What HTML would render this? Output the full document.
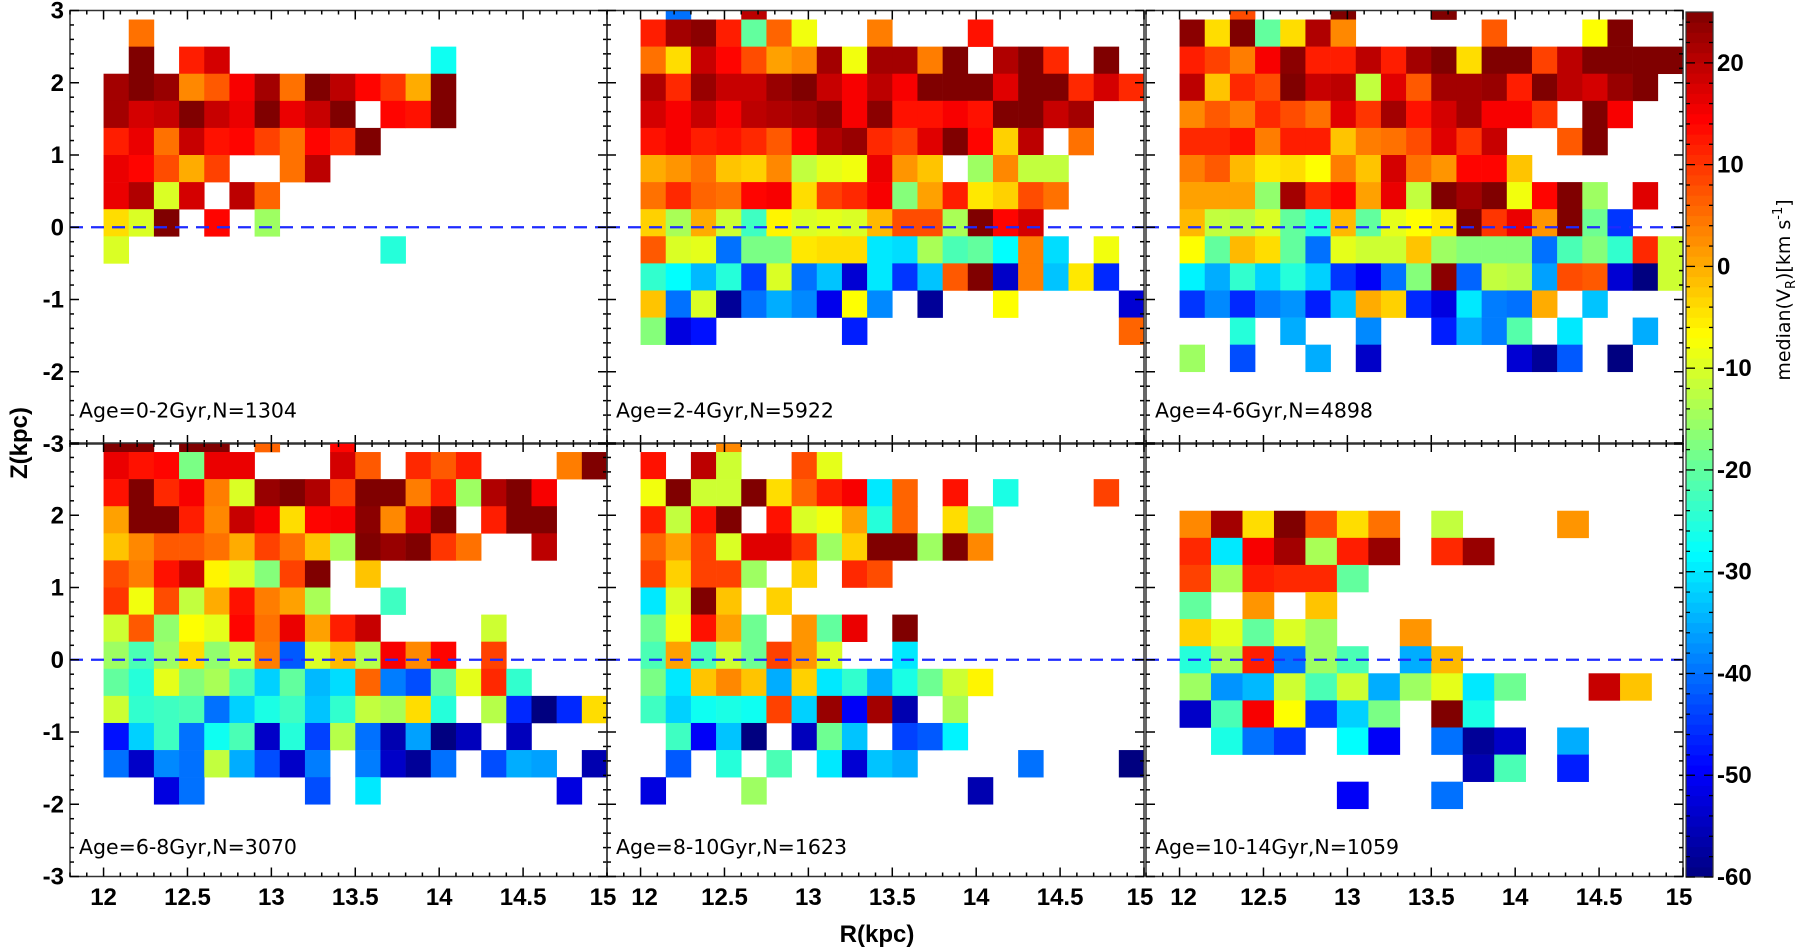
<!DOCTYPE html>
<html><head><meta charset="utf-8"><style>
html,body{margin:0;padding:0;background:#fff;}
svg{display:block;}
text{font-family:"Liberation Sans Narrow","Liberation Sans",sans-serif;font-weight:bold;fill:#000;}
.pl{font-family:"DejaVu Sans","Liberation Sans",sans-serif;font-weight:normal;}
</style></head><body>
<svg id="chart" width="1800" height="948" viewBox="0 0 1800 948" xmlns="http://www.w3.org/2000/svg"></svg>
<script>
const N=null;
const zTicks=[-3,-2,-1,0,1,2,3];
const rTicks=[12,12.5,13,13.5,14,14.5,15];
const cbTicks=[20,10,0,-10,-20,-30,-40,-50,-60];
const panelLabels=["Age=0-2Gyr,N=1304","Age=2-4Gyr,N=5922","Age=4-6Gyr,N=4898","Age=6-8Gyr,N=3070","Age=8-10Gyr,N=1623","Age=10-14Gyr,N=1059"];
const binR=[0.15,0.15,0.15,0.15,0.15,0.1875];
const binTopZ=[3.25,3.25,3.25,3.25,3.25,2.0625];
const p1=[
[N,N,N,N,N,N,N,N,N,N,N,N,N,N,N,N,N,N,N,N],
[N,5,N,N,N,N,N,N,N,N,N,N,N,N,N,N,N,N,N,N],
[N,25,N,12,18,N,N,N,N,N,N,N,N,-27,N,N,N,N,N,N],
[22,25,23,3,7,15,22,5,25,20,14,10,0,25,N,N,N,N,N,N],
[22,18,19,25,19,16,25,16,19,25,N,14,13,25,N,N,N,N,N,N],
[12,16,5,19,13,14,9,5,14,11,25,N,N,N,N,N,N,N,N,N],
[16,14,8,0,9,N,N,5,20,N,N,N,N,N,N,N,N,N,N,N],
[16,21,-10,18,N,20,6,N,N,N,N,N,N,N,N,N,N,N,N,N],
[-4,-10,25,N,14,N,-15,N,N,N,N,N,N,N,N,N,N,N,N,N],
[-10,N,N,N,N,N,N,N,N,N,N,-25,N,N,N,N,N,N,N,N]];
const p2=[
[N,-40,N,N,20,N,N,N,N,N,N,N,N,N,N,N,N,N,N,N],
[12,22,24,12,-20,6,-8,N,N,4,N,N,N,13,N,N,N,N,N,N],
[5,-4,19,14,8,1,3,22,-8,22,22,4,25,N,21,25,11,N,25,N],
[21,11,23,19,19,23,25,19,15,20,15,25,25,25,17,25,25,11,18,11],
[18,15,19,15,20,21,22,24,15,24,13,13,15,13,25,25,19,22,N,N],
[13,15,12,13,11,7,14,21,23,11,9,17,25,14,-3,20,N,5,N,N],
[0,2,5,-2,-3,3,-12,-9,-8,16,2,-2,N,-15,3,-12,-12,N,N,N],
[5,11,6,5,14,15,-4,9,11,15,-17,1,12,-5,-3,8,5,N,N,N],
[-3,-14,0,-11,-23,-6,-10,-9,-10,-1,8,8,-14,25,14,18,N,N,N,N],
[7,-10,-9,-40,-18,-18,-5,-4,-4,-30,-31,-14,-22,-20,-28,4,-31,N,-8,N],
[-24,-28,-34,-25,-44,-10,-40,-33,-53,-30,-45,-33,7,25,-54,4,-33,-5,-46,N],
[-2,-40,-10,-58,-40,-35,-38,-51,-7,-38,N,-58,N,N,-7,N,N,N,N,-53],
[-17,-52,-48,N,N,N,N,N,-47,N,N,N,N,N,N,N,N,N,N,6]];
const p3=[
[N,N,8,N,N,N,25,N,N,N,25,N,N,N,N,N,N,N,N,N],
[24,-4,25,-20,-4,21,3,N,N,N,N,N,7,N,N,N,-7,25,N,N],
[12,9,4,15,24,12,12,20,12,22,25,-4,25,25,9,20,25,25,25,25],
[20,-2,11,8,25,19,20,-12,17,7,22,22,23,12,25,20,18,23,25,N],
[3,7,4,11,8,5,17,10,22,13,18,22,15,15,10,N,25,15,N,N],
[11,11,13,4,12,12,-2,4,5,8,17,10,19,N,N,7,25,N,N,N],
[4,7,-1,-5,-4,-7,4,-2,18,5,2,14,14,-2,N,N,N,N,N,N],
[1,1,1,-16,22,11,14,1,16,-12,25,22,25,-8,14,25,-15,N,17,N],
[-1,-12,-13,-10,-20,-25,-1,-20,-9,-7,-5,25,10,16,2,25,-19,-45,N,N],
[-7,-20,-1,-4,-20,-40,-9,-11,-11,-2,-15,-17,-17,-17,-40,-22,-17,-24,11,-11],
[-29,-35,-24,-32,-25,-32,-45,-50,-40,-17,24,-41,-12,-13,-36,8,7,-53,-60,-11],
[-45,-38,-46,-39,-37,-47,-33,0,-3,-46,-52,-30,-39,-40,0,N,-33,N,N,N],
[N,N,-25,N,-35,N,N,-38,N,N,-47,-35,-39,-21,N,-30,N,N,-35,N],
[-15,N,-43,N,N,-35,N,-54,N,N,N,N,N,-53,-58,-42,N,-60,N,N]];
const p4=[
[25,25,N,25,25,N,6,N,N,14,N,N,N,N,N,N,N,N,N,N],
[16,13,14,-18,16,16,N,N,N,18,7,N,11,7,12,N,N,N,4,25],
[13,25,11,15,4,-10,23,25,21,9,25,25,4,12,-15,21,25,15,N,N],
[1,25,25,12,3,19,15,-4,14,15,24,3,17,25,N,12,25,25,N,N],
[-2,3,7,7,5,0,9,5,-2,-14,25,23,25,10,5,N,N,20,N,N],
[8,4,13,19,-6,-10,-17,9,25,N,-2,N,N,N,N,N,N,N,N,N],
[10,-8,8,-12,0,13,4,1,-14,N,N,-23,N,N,N,N,N,N,N,N],
[-11,7,-16,-7,-9,14,5,16,1,12,19,N,N,N,N,-11,N,N,N,N],
[-15,-22,-15,-4,-16,-11,4,-42,-10,-1,-13,15,3,14,N,9,N,N,N,N],
[-20,-25,-9,-17,-14,-22,-32,-20,-34,-31,6,-39,-43,-20,-9,11,-24,N,N,N],
[-11,-24,-23,-22,-40,-32,-26,-23,-33,-24,-12,-14,-4,-25,N,-13,-46,-60,-46,-4],
[-48,-32,-23,-40,-27,-22,-54,-25,-44,-13,-40,-56,-36,-60,-55,N,-55,N,N,N],
[-40,-54,-38,-40,-12,-35,-43,-54,-39,N,-39,-54,-58,-40,N,-43,-35,-36,N,-56],
[N,N,-52,-40,N,N,N,N,-43,N,-30,N,N,N,N,N,N,N,-52,N]];
const p5=[
[N,N,N,3,N,N,N,N,N,N,N,N,N,N,N,N,N,N,N,N],
[13,N,20,-11,N,N,8,-9,N,N,N,N,N,N,N,N,N,N,N,N],
[-8,25,-11,-11,25,-4,6,12,15,-30,6,N,13,N,-26,N,N,N,9,N],
[12,-12,13,25,N,13,-10,-8,1,-25,6,N,-4,-16,N,N,N,N,N,N],
[6,1,9,-10,17,17,10,-15,-3,25,25,-15,25,3,N,N,N,N,N,N],
[9,-3,9,9,-15,N,-3,N,11,8,N,N,N,N,N,N,N,N,N,N],
[-30,-10,25,-2,N,-3,N,N,N,N,N,N,N,N,N,N,N,N,N,N],
[-19,-8,13,1,-19,N,2,-20,16,N,25,N,N,N,N,N,N,N,N,N],
[-22,1,-22,-11,-19,9,2,-10,N,N,-30,N,N,N,N,N,N,N,N,N],
[-18,-30,-2,3,-2,-35,-3,-30,-24,-35,-26,-19,-11,-6,N,N,N,N,N,N],
[-23,-32,-27,-26,-27,9,-32,23,-50,22,-56,N,-14,N,N,N,N,N,N,N],
[N,-23,-50,-33,-60,N,-55,-19,-33,N,-44,-42,-29,N,N,N,N,N,N,N],
[N,-42,N,-25,N,-22,N,-30,-53,-33,-35,N,N,N,N,-40,N,N,N,-60],
[-52,N,N,N,-15,N,N,N,N,N,N,N,N,-56,N,N,N,N,N,N]];
const p6=[
[3,22,-4,25,8,-4,5,N,-12,N,N,N,2,N,N,N],
[11,-30,15,22,-14,12,23,N,11,23,N,N,N,N,N,N],
[9,-14,12,11,11,-20,N,N,N,N,N,N,N,N,N,N],
[-20,N,2,N,-2,N,N,N,N,N,N,N,N,N,N,N],
[-3,-9,-20,-10,-15,N,N,2,N,N,N,N,N,N,N,N],
[-25,-14,12,-40,-15,-22,N,-35,-1,N,N,N,N,N,N,N],
[-15,-37,-34,-11,-22,-11,-35,-15,-9,-30,-19,N,N,19,-2,N],
[-54,-22,15,-7,-45,-32,-18,N,25,-26,N,N,N,N,N,N],
[N,-26,-40,-45,N,-28,-50,N,-40,-58,-54,N,-35,N,N,N],
[N,N,N,N,N,N,N,N,N,-56,-22,N,-47,N,N,N],
[N,N,N,N,N,-50,N,N,-40,N,N,N,N,N,N,N]];
const panelData=[p1,p2,p3,p4,p5,p6];

const NS="http://www.w3.org/2000/svg";
const svg=document.getElementById('chart');
function mk(tag,attrs,parent){const e=document.createElementNS(NS,tag);for(const k in attrs)e.setAttribute(k,attrs[k]);(parent||svg).appendChild(e);return e;}
function jet(v){let t=(v+60)/85;t=Math.max(0,Math.min(1,t));const c=x=>Math.round(255*Math.max(0,Math.min(1,x)));
return `rgb(${c(1.5-Math.abs(4*t-3))},${c(1.5-Math.abs(4*t-2))},${c(1.5-Math.abs(4*t-1))})`;}
const panelX=[70,607,1146], panelW=537;
const rowY=[10.5,443], panelH=433.5;
const R0=11.8,R1=15,Z0=-3,Z1=3;
const names=["age-0-2","age-2-4","age-4-6","age-6-8","age-8-10","age-10-14"];
const defs=mk('defs',{});
for(let p=0;p<6;p++){
  const px=panelX[p%3], py=rowY[Math.floor(p/3)];
  const xs=r=>px+(r-R0)/(R1-R0)*panelW;
  const ys=z=>py+(Z1-z)/(Z1-Z0)*panelH;
  const cp=mk('clipPath',{id:'cp'+p},defs);
  mk('rect',{x:px,y:py,width:panelW,height:panelH},cp);
  const g=mk('g',{'clip-path':'url(#cp'+p+')'});
  
  
  const data=panelData[p], dr=binR[p], dz=0.375;
  data.forEach((row,i)=>{row.forEach((v,j)=>{ if(v===null)return;
    const zt=binTopZ[p]-i*dz, rl=12+j*dr;
    const x1=xs(rl),x2=xs(rl+dr),y1=ys(zt),y2=ys(zt-dz);
    const c=mk('rect',{x:x1,y:y1,width:x2-x1+0.3,height:y2-y1+0.3,fill:jet(v)},g);
    
    
  });});
  const dl=mk('line',{x1:px,x2:px+panelW,y1:ys(0),y2:ys(0),stroke:'#1f2bff','stroke-width':2.2,'stroke-dasharray':'13,8'});
  
  
  const fr=mk('rect',{x:px,y:py,width:panelW,height:panelH,fill:'none',stroke:'#333','stroke-width':1.5});
  
  
  const tg=mk('g',{stroke:'#000','stroke-width':1.5});
  for(let k=0;k<=30;k++){const z=-3+k*0.2;const y=ys(z);const major=Math.abs(z-Math.round(z))<1e-6;const L=major?9:4;
    mk('line',{x1:px,x2:px+L,y1:y,y2:y},tg);mk('line',{x1:px+panelW-L,x2:px+panelW,y1:y,y2:y},tg);}
  for(let k=0;k<=32;k++){const r=11.8+k*0.1;const x=xs(r);const major=Math.abs(r*2-Math.round(r*2))<1e-6;const L=major?9:4;
    mk('line',{x1:x,x2:x,y1:py,y2:py+L},tg);mk('line',{x1:x,x2:x,y1:py+panelH-L,y2:py+panelH},tg);}
  const lb=mk('text',{x:px+9,y:py+(p<3?407:411),'font-size':20.5,class:'pl'});
  lb.textContent=panelLabels[p];
  
  
  if(p%3===0){zTicks.forEach(z=>{ if(p===3&&z===3)return;
    const t=mk('text',{x:px-6,y:ys(z)+8,'font-size':24,'text-anchor':'end'});t.textContent=z;
    
    });}
  if(p>=3){rTicks.forEach(r=>{
    const t=mk('text',{x:xs(r)+(r===15?-4:(r===12&&p>3?4:0)),y:905,'font-size':24,'text-anchor':'middle'});t.textContent=r;
    
    });}
}
const zt=mk('text',{x:0,y:0,'font-size':24,'text-anchor':'middle',transform:'translate(27,443) rotate(-90)'});zt.textContent='Z(kpc)';


const rt=mk('text',{x:877,y:942,'font-size':24,'text-anchor':'middle'});rt.textContent='R(kpc)';


const cbx=1686,cbw=27,cbTop=12,cbBot=877;
const cy=v=>cbBot-(v+60)/85*(cbBot-cbTop);
const cb=mk('g',{});


for(let v=-60;v<25;v+=1){mk('rect',{x:cbx,y:cy(v+1),width:cbw,height:cy(v)-cy(v+1)+0.5,fill:jet(v+0.5)},cb);}
mk('rect',{x:cbx,y:cbTop,width:cbw,height:cbBot-cbTop,fill:'none',stroke:'#333','stroke-width':1.2},cb);
for(let v=-60;v<=24;v+=2){const y=cy(v);const major=v%10===0;const L=major?9:4;
  mk('line',{x1:cbx,x2:cbx+L,y1:y,y2:y,stroke:'#000','stroke-width':1.3},cb);mk('line',{x1:cbx+cbw-L,x2:cbx+cbw,y1:y,y2:y,stroke:'#000','stroke-width':1.3},cb);}
cbTicks.forEach(v=>{const t=mk('text',{x:cbx+cbw+4,y:cy(v)+8,'font-size':24});t.textContent=v;
  
  });
const ct=mk('text',{x:0,y:0,'font-size':19,'text-anchor':'middle',class:'pl',transform:'translate(1790,290) rotate(-90)'});
ct.innerHTML='median(V<tspan font-size="13" dy="5">R</tspan><tspan dy="-5">)[km s</tspan><tspan font-size="13" dy="-8">-1</tspan><tspan dy="8">]</tspan>';


</script>
</body></html>
